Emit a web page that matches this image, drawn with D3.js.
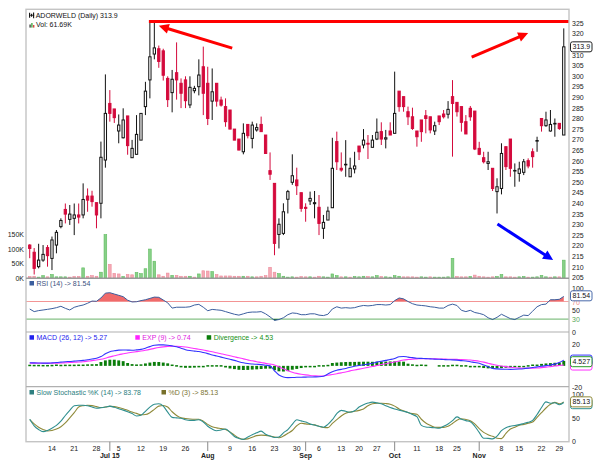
<!DOCTYPE html>
<html><head><meta charset="utf-8">
<script src="https://cdn.jsdelivr.net/npm/d3@7/dist/d3.min.js"></script>
<style>
html,body{margin:0;padding:0;background:#fff;}
svg{display:block;font-family:"Liberation Sans",Arial,sans-serif;}
</style></head><body>
<svg id="c" width="594" height="461"></svg>
<script>
// ---------------- DATA ----------------
const symbol = "ADORWELD";
const lastClose = "313.9";
const lastVolume = "61.69K";
const startDate = "2015-06-08", endDate = "2015-12-01";
const holidays = ["2015-09-17","2015-09-25","2015-10-02","2015-10-22","2015-11-12","2015-11-25"];

const open = [
220.4,217.0,210.2,213.3,219.2,214.1,220.4,229.1,237.2,232.5,
233.0,234.6,234.6,243.5,243.5,240.4,240.1,260.5,287.2,284.6,
274.2,271.0,281.3,261.6,263.2,269.9,285.7,298.3,310.5,313.0,
312.0,299.0,292.3,301.7,296.7,298.3,286.5,293.2,295.1,304.5,
296.7,288.3,296.7,288.8,285.7,284.1,275.1,270.4,264.4,277.3,
270.7,274.7,277.3,272.3,255.5,249.5,225.4,225.9,242.0,250.0,
251.1,245.1,238.2,241.2,239.9,238.2,228.3,232.2,238.0,269.2,
256.6,258.3,252.6,256.3,267.1,267.6,268.4,266.5,270.4,273.9,
270.4,274.2,273.1,293.0,290.4,283.3,280.9,274.2,279.4,281.4,
280.9,274.2,281.3,282.2,282.1,290.4,287.7,285.7,278.6,284.9,
283.6,266.0,261.6,258.9,256.6,245.6,247.1,266.8,270.4,255.4,
254.2,254.7,260.2,264.4,269.5,280.1,276.7,274.2,277.8,277.8,
272.3];
const high = [
220.8,219.0,221.0,220.4,220.4,224.4,227.5,233.0,240.0,239.3,
240.0,240.0,249.5,247.1,246.0,240.4,269.2,300.9,293.5,284.6,
282.0,284.9,281.3,270.0,281.7,282.5,297.4,325.5,325.8,314.5,
313.0,300.0,303.0,316.0,299.0,300.0,300.0,295.5,308.0,314.0,
304.5,303.7,296.7,290.4,289.6,284.1,275.1,270.4,277.8,277.3,
278.6,277.8,281.0,272.3,264.1,249.5,233.0,240.1,246.4,263.2,
256.9,245.1,240.1,245.6,245.9,244.0,234.6,238.5,271.0,273.9,
264.1,269.9,261.6,264.4,267.1,275.1,272.3,272.3,280.1,278.3,
274.7,278.3,302.2,293.0,290.4,285.7,285.2,274.2,279.4,284.1,
280.9,278.6,281.3,284.1,288.3,298.2,287.7,285.7,281.7,286.0,
283.6,269.1,264.4,264.4,256.6,251.9,268.4,266.8,270.4,258.9,
259.7,261.0,261.3,266.0,271.5,280.1,283.3,284.1,280.1,277.8,
322.6];
const low = [
214.2,206.5,209.4,212.5,210.2,208.6,216.5,228.3,230.6,229.9,
225.1,230.6,233.0,236.1,238.5,228.3,233.0,256.9,278.6,278.0,
268.4,270.7,263.0,261.6,263.0,269.9,281.7,289.6,308.0,304.0,
298.0,285.5,283.0,289.0,285.0,285.0,285.0,292.0,291.0,281.7,
277.0,279.4,285.7,285.7,276.2,275.1,269.9,265.2,263.2,270.7,
266.0,273.9,273.9,263.6,251.1,215.6,218.8,225.1,235.3,248.8,
244.0,236.1,231.4,239.3,233.0,225.1,223.3,232.2,238.0,255.8,
255.0,252.6,252.6,254.2,260.5,266.0,261.0,266.5,269.9,267.6,
266.0,272.3,273.0,283.3,283.3,277.0,274.7,266.8,269.1,273.1,
273.1,272.3,277.0,280.1,280.1,262.1,281.0,273.9,272.8,279.0,
265.2,262.8,258.9,255.8,245.9,235.3,244.3,255.8,252.6,247.9,
250.3,253.4,256.6,256.9,264.4,273.9,276.2,273.9,271.5,274.7,
272.3];
const close = [
218.8,209.4,213.3,216.0,215.4,222.8,226.4,232.0,235.0,235.0,
234.6,233.6,241.9,241.6,240.9,234.6,261.8,282.5,282.5,280.5,
277.0,279.4,267.3,266.0,272.6,282.5,293.0,309.2,313.4,307.0,
300.5,289.0,298.6,298.3,292.0,288.5,294.8,294.3,300.6,292.0,
280.1,292.7,288.3,286.4,278.6,275.1,269.9,265.2,273.1,272.0,
277.0,275.8,273.9,263.6,253.8,221.2,230.2,236.1,245.6,253.1,
248.4,237.7,237.7,242.4,240.4,230.6,231.1,236.4,256.6,259.7,
255.8,258.5,256.6,257.7,264.4,269.9,268.0,269.9,273.6,270.4,
271.0,272.3,282.5,285.7,285.7,280.9,275.4,271.5,273.9,280.1,
274.7,276.7,278.6,280.9,284.4,287.2,283.3,278.3,272.8,280.9,
265.7,263.2,259.7,259.7,247.1,247.9,263.6,257.4,256.6,255.6,
256.3,259.7,257.7,262.1,269.7,276.7,279.4,277.3,277.8,275.4,
313.9];
const volumeK = [
5,6,3,8,4,12,4,4,4,3,
5,5,35,6,8,6,20,150,47,16,
14,5,12,11,19,15,32,100,58,11,
6,17,9,9,6,6,6,3,14,25,
24,22,12,7,7,7,6,6,6,6,
4,4,6,8,37,20,15,6,3,4,
3,5,4,4,3,6,4,3,14,8,
4,4,3,5,4,6,5,4,8,5,
4,3,8,6,4,4,4,3,4,3,
4,3,3,3,4,68,5,4,4,5,
10,6,4,3,4,5,12,4,4,3,
4,5,3,3,4,9,4,3,4,4,
61.69];
const rsi = [
52.9,47,49.3,50.7,52.2,53.8,56,59.1,54.5,50.7,
56.8,59.8,62,66,71,70.5,78,89,90,87,
84,81,73,69,69.5,72,74,77,80,79.5,
73.4,67,55,57,57,57,58,62,63.5,57,
49,52,51,50,47,44,41,39,42,45,
46,46,47,42,35,27,29,33,40,44,
43,40,40,42,42,39,38,41,53,58,
55,56,55,56,59,61,60,61,63,63,
62,63,72,78,76,70,65,62,61,60,
58,57,55,55,61,64,61,50,47,50,
45,43,40,33,29,34,41,36,31,29,
34,39,38,48,58,63,64,74,74,75,
81.54];
const macd = [
2.9,2.7,2.6,2.5,2.5,2.7,3.0,3.4,3.8,4.0,
4.3,4.6,5.0,5.6,6.2,6.9,8.5,11.0,13.0,13.8,
14.4,14.5,14.4,14.3,14.6,15.1,16.2,17.6,18.8,19.2,
19.2,18.9,18.3,17.5,16.2,14.8,14.0,13.5,13.1,12.2,
11.2,10.0,9.0,8.0,7.0,6.0,5.0,3.8,2.8,2.1,
1.7,1.4,1.1,0.6,0.0,-4.5,-8.4,-10.2,-10.8,-10.7,
-10.5,-10.4,-10.3,-10.2,-10.1,-10.0,-9.5,-7.5,-5.3,-4.0,
-3.2,-2.4,-1.2,-0.4,0.3,1.0,1.6,2.4,3.4,4.2,
5.0,5.8,6.8,8.4,8.6,8.0,7.5,7.0,6.8,6.6,
6.4,6.2,6.0,5.8,5.6,5.5,5.2,4.8,4.5,3.8,
3.0,2.3,0.8,-0.8,-2.3,-2.8,-3.0,-3.1,-3.2,-3.1,
-2.9,-2.6,-2.1,-1.5,-0.9,-0.4,0.2,0.8,1.6,3.0,
5.27];
const macdSignal = [
2.5,2.5,2.4,2.4,2.3,2.4,2.5,2.6,2.8,3.0,
3.3,3.5,3.8,4.3,4.8,5.4,6.0,7.0,8.2,9.2,
10.2,11.0,11.8,12.4,13.0,13.6,14.3,15.1,16.0,16.8,
17.4,17.8,18.0,18.0,17.7,17.2,16.6,15.9,15.2,14.5,
13.7,12.9,12.0,11.1,10.2,9.2,8.3,7.4,6.4,5.5,
4.6,3.8,3.1,2.3,1.6,0.8,-0.9,-2.6,-4.4,-5.8,
-6.9,-7.7,-8.3,-8.8,-9.1,-9.3,-9.3,-8.6,-7.9,-7.2,
-6.4,-5.6,-4.6,-3.8,-3.0,-2.2,-1.4,-0.6,0.3,1.2,
2.0,2.8,3.6,4.5,5.3,5.8,6.2,6.4,6.6,6.6,
6.5,6.4,6.3,6.2,6.1,6.0,5.9,5.8,5.6,5.3,
4.8,4.2,3.4,2.4,1.4,0.6,-0.1,-0.7,-1.3,-1.8,
-2.1,-2.2,-2.2,-2.1,-1.9,-1.6,-1.2,-0.7,-0.2,0.3,
0.74];
const macdHist = [
0.4,0.3,0.3,0.2,0.2,0.3,0.6,1.0,1.1,1.1,
1.1,1.2,1.2,1.4,1.5,1.6,3.5,5.0,5.6,5.6,
5.0,4.3,2.6,1.6,1.3,1.4,2.2,3.0,3.6,3.5,
3.0,2.3,1.2,-0.3,-1.4,-1.8,-1.8,-1.6,-1.4,-0.8,
-0.6,-0.5,-0.5,-0.6,-1.5,-2.4,-3.0,-3.6,-3.8,-3.7,
-3.4,-3.2,-2.9,-2.6,-2.5,-4.0,-5.0,-5.2,-4.8,-3.5,
-2.8,-2.0,-1.4,-1.0,-0.8,-0.6,-0.4,0.3,2.6,3.0,
3.3,3.5,3.6,3.6,3.7,3.8,3.8,3.7,3.8,3.9,
3.9,4.0,4.1,4.0,3.8,2.0,1.4,1.0,0.6,0.4,
0.0,0.0,-0.4,-0.4,-0.4,0.4,0.4,-0.4,-0.6,-0.8,
-1.0,-1.4,-2.0,-2.3,-2.3,-2.2,-2.0,-1.8,-1.5,-1.2,
-1.0,-0.8,-0.6,0.6,1.2,1.8,2.2,2.5,2.8,3.0,
4.53];
const stochK = [
48,34,26,21.5,24,29,35,44,56,67,
77,78,78,77,74,71.5,72.5,74,76,73.5,
70.5,67.5,64,60,55,56.5,65,74,80,81,
76,63,52,51,50,47,45.5,45.5,47,42,
33,27,23.5,25,27,20,11,7,5,10,
15,19,22.5,16,12,9,10,19,26,37,
47,44.5,42,38,35.5,33,31,37,47,60,
67,65,63,66,74,79,82.5,84.5,83,81,
77,73,70,67.5,65,62.5,58,53.5,35,31.5,
30.7,29.7,28.8,33,38,45,53,48,45,42.8,
33,20,7.5,7.2,6,12,23.5,30,33,34.5,
36.5,39,41.5,45.5,58,73,85,82,83.3,79,
83.78];
const stochD = [
47,38,31,26,23,24,27,32,40,51,
62,74,77,78,77,75,73,74,75.5,75,
73,70.5,67,63.5,60.5,57.5,58,62,69,76,
77.5,74,64,56,51,49.5,48.5,48,48,44,
37,32,29.5,28,26,21,14,8,5,6,
9.5,13,14,13.5,12,10,8.5,12,18,24,
34,39.5,38,37,36,33,30.5,30,39,47,
55,61,63.5,65,67,70,77,81,82,82,
81.5,80,76,70,66,62.5,60,58.5,48,40,
35,31,30.7,30.7,33,39,46,49,47.5,45,
38,28,20,15,11.5,7.5,6.5,18,27,31,
35,37,39.5,42,52,62,72,80,84,81,
85.13];

const priceTicks = d3.range(205, 326, 5);
const volumeTicks = [0, 50, 100, 150];
const rsiTicks = [100, 70, 50, 30, 0];
const macdTicks = [20, -20];
const stochTicks = [100, 50, 0];

// annotations (candle index, price)
const resistance = {price: 325.85, fromIndex: 27};
const arrows = [
  {from: [45.5, 313.3], to: [29.0, 323.8], color: "#ff0000"},
  {from: [99.3, 309.0], to: [112.0, 320.4], color: "#ff0000"},
  {from: [105.1, 230.3], to: [117.6, 213.3], color: "#0000ff"}
];

// ---------------- DATES ----------------
function tradingDays() {
  const out = [];
  let d = new Date(startDate + "T12:00:00Z");
  const e = new Date(endDate + "T12:00:00Z");
  while (d <= e) {
    const wd = d.getUTCDay(), s = d.toISOString().slice(0, 10);
    if (wd > 0 && wd < 6 && !holidays.includes(s)) out.push(new Date(d));
    d = new Date(d.getTime() + 864e5);
  }
  return out;
}
const dates = tradingDays().map(d => new Date(d.getTime() - 864e5)); // chart shows dates one day earlier

// ---------------- LAYOUT ----------------
const svg = d3.select("#c");
const n = close.length;
const idx = d3.range(n);
const L = 26, R = 569, T = 9.3, B = 441.7;
const sep1 = 278.3, sep2 = 332, sep3 = 386.7;

const x = d3.scaleBand().domain(idx).range([27.5, 566]).paddingInner(0.26).paddingOuter(0.13);
const bw = x.bandwidth();
const cx = i => x(i) + bw / 2;
const xf = v => x(0) + bw / 2 + v * x.step();

const yP = d3.scaleLinear().domain([205, 325]).range([277.7, 23.3]);
const yV = d3.scaleLinear().domain([0, 150]).range([278, 234.6]);
const yR = d3.scaleLinear().domain([0, 100]).range([332.3, 288.3]);
const yM = d3.scaleLinear().domain([-20, 20]).range([387.7, 344]);
const yS = d3.scaleLinear().domain([0, 100]).range([441.7, 394.9]);

const RED = "#d40a3c";
const defs = svg.append("defs");
function clip(id, y0, y1) {
  defs.append("clipPath").attr("id", id).append("rect")
    .attr("x", L).attr("y", y0).attr("width", R - L).attr("height", y1 - y0);
  return `url(#${id})`;
}

svg.append("rect").attr("width", 594).attr("height", 461).attr("fill", "#fff");

// ---------------- VOLUME ----------------
const volUp = i => close[i] > (i ? close[i - 1] : open[i]);
svg.append("g").selectAll("rect").data(idx).join("rect")
  .attr("x", i => x(i) + 0.3).attr("width", bw - 0.6)
  .attr("y", i => yV(volumeK[i])).attr("height", i => yV(0) - yV(volumeK[i]))
  .attr("fill", i => volUp(i) ? "#88d088" : "#f5a9b4")
  .attr("stroke", i => volUp(i) ? "#5fbb5f" : "#ec8c9c").attr("stroke-width", 0.6);

// ---------------- CANDLES ----------------
const down = i => close[i] < open[i];
const cg = svg.append("g");
cg.selectAll("line").data(idx).join("line")
  .attr("x1", cx).attr("x2", cx)
  .attr("y1", i => yP(high[i])).attr("y2", i => yP(low[i]))
  .attr("stroke", i => down(i) ? RED : "#111").attr("stroke-width", 1);
cg.selectAll("rect").data(idx).join("rect")
  .attr("x", i => x(i) + 0.5).attr("width", bw - 1)
  .attr("y", i => yP(Math.max(open[i], close[i])))
  .attr("height", i => Math.max(0.6, Math.abs(yP(open[i]) - yP(close[i]))))
  .attr("fill", i => down(i) ? RED : "#fff")
  .attr("stroke", i => down(i) ? RED : "#111").attr("stroke-width", 1);

// ---------------- ANNOTATIONS ----------------
svg.append("line")
  .attr("x1", cx(resistance.fromIndex) - 1).attr("x2", R)
  .attr("y1", yP(resistance.price)).attr("y2", yP(resistance.price))
  .attr("stroke", "#ff0000").attr("stroke-width", 3);
arrows.forEach(a => {
  const x1 = xf(a.from[0]), y1 = yP(a.from[1]), x2 = xf(a.to[0]), y2 = yP(a.to[1]);
  const ang = Math.atan2(y2 - y1, x2 - x1), c = Math.cos(ang), s = Math.sin(ang);
  const hl = 10, hw = 5;
  const bx = x2 - hl * c, by = y2 - hl * s;
  svg.append("line").attr("x1", x1).attr("y1", y1).attr("x2", bx + c).attr("y2", by + s)
    .attr("stroke", a.color).attr("stroke-width", 3);
  svg.append("polygon").attr("points",
    [[x2, y2], [bx - hw * s, by + hw * c], [bx + hw * s, by - hw * c]].map(p => p.join(",")).join(" "))
    .attr("fill", a.color);
});

// ---------------- RSI ----------------
const rg = svg.append("g").attr("clip-path", clip("cr", sep1, sep2));
rg.append("line").attr("x1", L).attr("x2", R).attr("y1", yR(70)).attr("y2", yR(70)).attr("stroke", "#f4a3a3").attr("stroke-width", 1.2);
rg.append("line").attr("x1", L).attr("x2", R).attr("y1", yR(30)).attr("y2", yR(30)).attr("stroke", "#86c286").attr("stroke-width", 1.2);
const rsiUp = d3.area().x(cx).y0(yR(70)).y1(i => yR(rsi[i]));
const rsiDn = d3.area().x(cx).y0(yR(30)).y1(i => yR(rsi[i]));
rg.append("path").attr("d", rsiUp(idx)).attr("fill", "#f06a6a").attr("clip-path", clip("cr70", sep1, yR(70)));
rg.append("path").attr("d", rsiDn(idx)).attr("fill", "#1d6b3a").attr("clip-path", clip("cr30", yR(30), sep2));
rg.append("path").attr("d", d3.line().x(cx).y(i => yR(rsi[i]))(idx))
  .attr("fill", "none").attr("stroke", "#3b5e9e").attr("stroke-width", 1);

// ---------------- MACD ----------------
const mg = svg.append("g").attr("clip-path", clip("cm", sep2, sep3));
mg.selectAll("rect").data(idx.filter(i => macdHist[i] !== 0)).join("rect")
  .attr("x", i => x(i) + 0.2).attr("width", bw - 0.4)
  .attr("y", i => Math.min(yM(0), yM(macdHist[i])) - (Math.abs(macdHist[i]) < 0.8 ? 0.7 : 0))
  .attr("height", i => Math.max(1.5, Math.abs(yM(macdHist[i]) - yM(0))))
  .attr("fill", "#0a7d0a");
mg.append("path").attr("d", d3.line().x(cx).y(i => yM(macdSignal[i])).curve(d3.curveMonotoneX)(idx))
  .attr("fill", "none").attr("stroke", "#ff33ff").attr("stroke-width", 1.1);
mg.append("path").attr("d", d3.line().x(cx).y(i => yM(macd[i])).curve(d3.curveMonotoneX)(idx))
  .attr("fill", "none").attr("stroke", "#3333ff").attr("stroke-width", 1.1);

// ---------------- STOCHASTIC ----------------
const sg = svg.append("g").attr("clip-path", clip("cs", sep3, B));
sg.append("path").attr("d", d3.line().x(cx).y(i => yS(stochD[i])).curve(d3.curveMonotoneX)(idx))
  .attr("fill", "none").attr("stroke", "#8f8a3a").attr("stroke-width", 1.1);
sg.append("path").attr("d", d3.line().x(cx).y(i => yS(stochK[i])).curve(d3.curveMonotoneX)(idx))
  .attr("fill", "none").attr("stroke", "#2f8f8f").attr("stroke-width", 1.1);

// ---------------- FRAME ----------------
const fr = svg.append("g").attr("fill", "none");
fr.append("rect").attr("x", L).attr("y", T).attr("width", R - L).attr("height", B - T)
  .attr("stroke", "#c4c4c4").attr("stroke-width", 1.4);
[sep1, sep2, sep3].forEach(y => fr.append("line").attr("x1", L).attr("x2", R).attr("y1", y).attr("y2", y)
  .attr("stroke", y === sep1 ? "#9a9a9a" : "#b0b0b0").attr("stroke-width", y === sep1 ? 1.6 : 1.2));

// ---------------- X AXIS ----------------
const fmtDay = d3.utcFormat("%-d"), fmtMon = d3.utcFormat("%b"), fmtMonY = d3.utcFormat("%b %y");
let firstMonth = true;
const xa = svg.append("g").attr("font-size", 7).attr("fill", "#222").attr("text-anchor", "middle");
idx.forEach(i => {
  if (i === 0) return;
  const d = dates[i], p = dates[i - 1];
  const monthStart = d.getUTCMonth() !== p.getUTCMonth();
  const weekStart = d3.utcWeek.floor(d).getTime() !== d3.utcWeek.floor(p).getTime();
  if (monthStart) {
    xa.append("line").attr("x1", cx(i)).attr("x2", cx(i)).attr("y1", B).attr("y2", 451)
      .attr("stroke", "#8a8a8a").attr("stroke-width", 1);
    xa.append("text").attr("x", cx(i)).attr("y", 458.3).attr("font-weight", "bold")
      .text(firstMonth ? fmtMonY(d) : fmtMon(d));
    firstMonth = false;
  } else if (weekStart) {
    xa.append("text").attr("x", cx(i)).attr("y", 450.8).text(fmtDay(d));
  }
});

// ---------------- Y AXES ----------------
const boxY = yP(close[n - 1]);
const ya = svg.append("g").attr("font-size", 7).attr("fill", "#222");
priceTicks.filter(v => Math.abs(yP(v) - boxY) > 7)
  .forEach(v => ya.append("text").attr("x", 572).attr("y", yP(v) + 2.5).text(v));
volumeTicks.forEach(v => ya.append("text").attr("x", 24).attr("y", yV(v) + 2.5).attr("text-anchor", "end").text(v + "K"));
rsiTicks.forEach(v => ya.append("text").attr("x", 572).attr("y", yR(v) + (v === 70 ? 3.2 : 2.5))
  .attr("fill", v === 70 ? "#ee8a8a" : v === 30 ? "#5aa85a" : "#222").text(v));
macdTicks.forEach(v => ya.append("text").attr("x", 572).attr("y", yM(v) + 2.5).text(v));
stochTicks.forEach(v => ya.append("text").attr("x", 572).attr("y", yS(v) + 2.5).text(v));

function valueBox(y, txt, stroke, dy) {
  const g = svg.append("g");
  g.append("rect").attr("x", 570.5).attr("y", y - 5 + (dy || 0)).attr("width", 21.5).attr("height", 10)
    .attr("rx", 2).attr("fill", "#fff").attr("stroke", stroke).attr("stroke-width", 1);
  if (txt) g.append("text").attr("x", 581.3).attr("y", y + 2.5 + (dy || 0)).attr("text-anchor", "middle")
    .attr("font-size", 7).attr("fill", "#111").text(txt);
}
valueBox(boxY, lastClose, "#222");
valueBox(yR(rsi[n - 1]), rsi[n - 1].toFixed(2), "#4a6aaa", -0.6);
valueBox(yM(macdSignal[n - 1]), "", "#ff33ff");
valueBox(yM(macd[n - 1]), "", "#3333ff");
valueBox(yM(macdHist[n - 1]) + 0.8, "4.527", "#2a9a2a");
valueBox(yS(stochK[n - 1]) + 1.2, "", "#2f8f8f");
valueBox(yS(stochD[n - 1]), stochD[n - 1].toFixed(2), "#8f8a3a");

// ---------------- LEGENDS ----------------
const lg = svg.append("g").attr("font-size", 7);
function legend(x0, y0, color, txt, tcolor) {
  lg.append("rect").attr("x", x0).attr("y", y0 - 5).attr("width", 4.5).attr("height", 4.5).attr("fill", color);
  lg.append("text").attr("x", x0 + 7).attr("y", y0).attr("fill", tcolor || color).text(txt);
}
// header
const hg = svg.append("g");
[[29.6, 12.8, 17.8], [31.6, 13.8, 16.8], [33.6, 12.5, 18.2]].forEach(p =>
  hg.append("line").attr("x1", p[0]).attr("x2", p[0]).attr("y1", p[1]).attr("y2", p[2]).attr("stroke", "#111").attr("stroke-width", 1.1));
hg.append("line").attr("x1", 29).attr("x2", 34.2).attr("y1", 15.3).attr("y2", 15.3).attr("stroke", "#111").attr("stroke-width", 0.8);
[[29.4, 24.5, "#444"], [31.2, 23, "#49a849"], [33, 25, "#d44"]].forEach(p =>
  hg.append("rect").attr("x", p[0]).attr("y", p[1]).attr("width", 1.4).attr("height", 27.6 - p[1]).attr("fill", p[2]));
lg.append("text").attr("x", 35.7).attr("y", 18.3).attr("fill", "#111").text(`${symbol} (Daily) ${lastClose}`);
lg.append("text").attr("x", 36).attr("y", 27.3).attr("fill", "#111").text(`Vol: ${lastVolume}`);

legend(29.5, 286, "#3b5e9e", `RSI (14) -> ${rsi[n - 1].toFixed(2)}`, "#3b4f7e");
legend(29.5, 340.2, "#2222ee", `MACD (26, 12) -> ${macd[n - 1].toFixed(2)}`);
legend(135.3, 340.2, "#ff22ff", `EXP (9) -> ${macdSignal[n - 1].toFixed(2)}`, "#e020e0");
legend(206.7, 340.2, "#0a7d0a", `Divergence -> ${macdHist[n - 1].toFixed(2)}`, "#149014");
legend(29.5, 395, "#2f8080", `Slow Stochastic %K (14) -> ${stochK[n - 1].toFixed(2)}`, "#2a7e7e");
legend(161.5, 395, "#77702a", `%D (3) -> ${stochD[n - 1].toFixed(2)}`, "#7a7430");
</script>
</body></html>
